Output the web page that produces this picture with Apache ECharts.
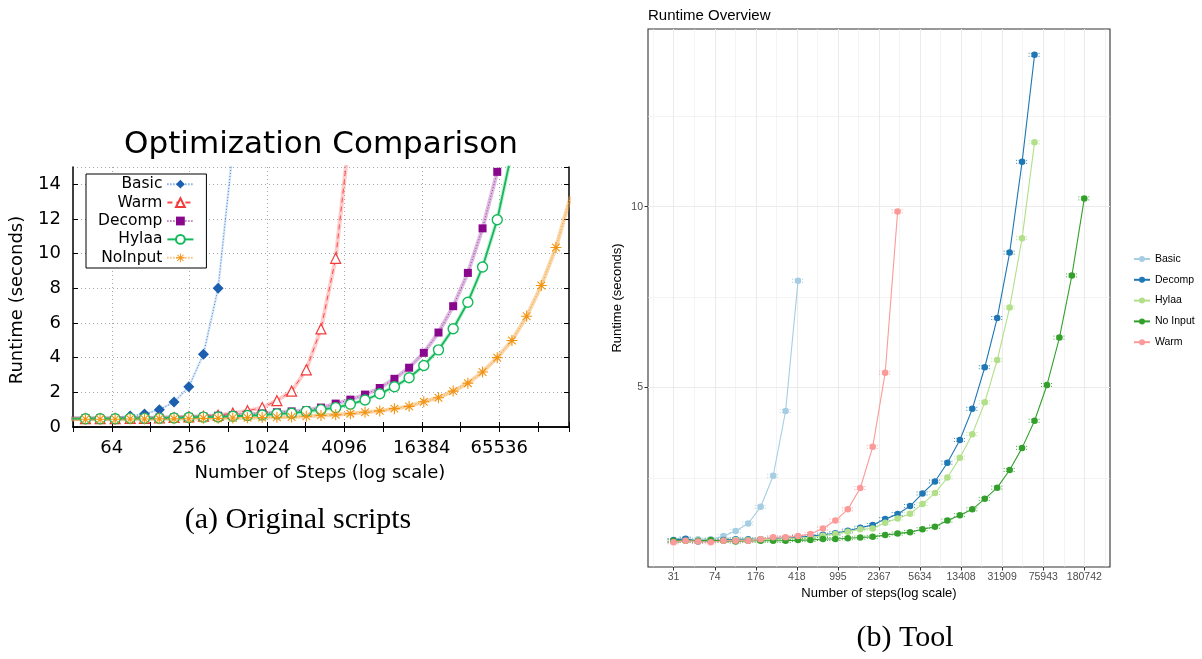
<!DOCTYPE html>
<html>
<head>
<meta charset="utf-8">
<title>Runtime comparison</title>
<script src="https://cdn.jsdelivr.net/npm/echarts@6/dist/echarts.min.js"></script>
<style>
html, body { margin: 0; padding: 0; background: #fff; }
#chart { width: 1202px; height: 659px; }
</style>
</head>
<body>
<div id="chart"></div>
<script>
// number of steps of every measured run (same for both panels)
const steps = [31, 40, 52, 68, 89, 115, 150, 195, 254, 330, 429, 558, 726, 944, 1228, 1597, 2077,
  2701, 3513, 4568, 5941, 7727, 10049, 13069, 16996, 22104, 28746, 37385, 48619, 63229, 82230,
  106941, 139077, 180742, 235060];

// (a) original scripts - runtime in seconds
const origBasic = [0.46, 0.46, 0.46, 0.5, 0.63, 0.75, 1.0, 1.44, 2.32, 4.2, 8.0, 16.0];
const origWarm = [0.48, 0.48, 0.48, 0.48, 0.5, 0.5, 0.52, 0.55, 0.58, 0.62, 0.68, 0.8, 0.94, 1.12,
  1.52, 2.07, 3.3, 5.66, 9.73, 17.3];
const origDecomp = [0.5, 0.5, 0.5, 0.5, 0.52, 0.52, 0.55, 0.55, 0.58, 0.6, 0.65, 0.68, 0.72, 0.78,
  0.85, 0.9, 0.97, 1.12, 1.35, 1.58, 1.87, 2.25, 2.78, 3.42, 4.28, 5.45, 6.97, 8.89, 11.46, 14.72];
const origHylaa = [0.48, 0.48, 0.48, 0.48, 0.5, 0.5, 0.5, 0.52, 0.55, 0.57, 0.58, 0.62, 0.66, 0.69,
  0.76, 0.79, 0.9, 1.0, 1.12, 1.31, 1.56, 1.92, 2.32, 2.84, 3.55, 4.45, 5.67, 7.2, 9.23, 11.96, 15.9];
const origNoInput = [0.45, 0.45, 0.45, 0.45, 0.46, 0.46, 0.47, 0.47, 0.48, 0.5, 0.5, 0.52, 0.54, 0.55,
  0.56, 0.58, 0.62, 0.67, 0.7, 0.77, 0.85, 0.93, 1.06, 1.19, 1.46, 1.69, 2.07, 2.53, 3.17, 4.0,
  4.99, 6.39, 8.16, 10.36, 13.3];

// (b) tool - runtime in seconds
const toolBasic = [0.76, 0.80, 0.80, 0.80, 0.89, 1.03, 1.24, 1.70, 2.56, 4.35, 7.95];
const toolDecomp = [0.78, 0.82, 0.74, 0.76, 0.78, 0.80, 0.80, 0.80, 0.82, 0.84, 0.86, 0.89, 0.93,
  0.97, 1.04, 1.12, 1.20, 1.36, 1.50, 1.72, 2.07, 2.40, 2.92, 3.55, 4.41, 5.56, 6.92, 8.73, 11.24, 14.2];
const toolHylaa = [0.74, 0.76, 0.76, 0.76, 0.76, 0.78, 0.78, 0.80, 0.80, 0.82, 0.84, 0.86, 0.90,
  0.95, 1.01, 1.08, 1.10, 1.26, 1.38, 1.51, 1.78, 2.08, 2.51, 3.06, 3.71, 4.59, 5.76, 7.21, 9.13, 11.78];
const toolNoInput = [0.76, 0.76, 0.76, 0.78, 0.76, 0.74, 0.76, 0.76, 0.76, 0.76, 0.78, 0.78, 0.81,
  0.81, 0.83, 0.85, 0.87, 0.92, 0.96, 1.00, 1.08, 1.15, 1.32, 1.47, 1.63, 1.92, 2.23, 2.72, 3.33,
  4.08, 5.07, 6.38, 8.10, 10.23];
const toolWarm = [0.72, 0.76, 0.74, 0.72, 0.76, 0.76, 0.76, 0.80, 0.86, 0.86, 0.89, 0.95, 1.10,
  1.32, 1.63, 2.22, 3.36, 5.41, 9.87];

// tick labels
const origXTicks = [64, 256, 1024, 4096, 16384, 65536];
const toolXTicks = [31, 74, 176, 418, 995, 2367, 5634, 13408, 31909, 75943, 180742];
const toolYTicks = [5, 10];
const toolYMinor = [2.5, 7.5, 12.5];

// minor grid of the tool panel sits half way (in log) between the labels
const toolXMinor = [Math.log(toolXTicks[0]) - Math.log(toolXTicks[1] / toolXTicks[0]) / 2];
for (let i = 0; i < toolXTicks.length; i++) {
  const a = Math.log(toolXTicks[i]);
  const b = i + 1 < toolXTicks.length ? Math.log(toolXTicks[i + 1]) : a + Math.log(toolXTicks[i] / toolXTicks[i - 1]);
  toolXMinor.push((a + b) / 2);
}

function pairs(vals, f) {
  const out = [];
  vals.forEach(function (v, i) { if (v != null) out.push([f(steps[i]), v]); });
  return out;
}

const asterisk = 'path://M-10,-1L10,-1L10,1L-10,1Z M-1,-10L1,-10L1,10L-1,10Z ' +
  'M-6.3,-7.7L7.7,6.3L6.3,7.7L-7.7,-6.3Z M6.3,-7.7L7.7,-6.3L-6.3,7.7L-7.7,6.3Z';

const origSeries = [
  {name: 'Basic', vals: origBasic, line: '#3f86d6', dash: [1, 2], glow: 'rgba(60,130,210,0.18)', gw: 2.5,
    symbol: 'diamond', size: 11, fill: '#1b5fae', border: '#1b5fae', bw: 0},
  {name: 'Warm', vals: origWarm, line: '#ff4a4a', dash: [5, 4], glow: 'rgba(255,110,110,0.35)', gw: 4,
    symbol: 'triangle', size: 10, fill: '#fff', border: '#f23c3c', bw: 1.2},
  {name: 'Decomp', vals: origDecomp, line: '#a23aa6', dash: [1, 2], glow: 'rgba(160,60,170,0.35)', gw: 4,
    symbol: 'rect', size: 8, fill: '#88078c', border: '#88078c', bw: 0},
  {name: 'Hylaa', vals: origHylaa, line: '#13b95a', dash: 'solid', glow: 'rgba(30,190,100,0.25)', gw: 4,
    symbol: 'circle', size: 10, fill: '#fff', border: '#13b95a', bw: 1.4},
  {name: 'NoInput', vals: origNoInput, line: '#f5a03a', dash: [1, 2], glow: 'rgba(245,165,60,0.45)', gw: 4,
    symbol: asterisk, size: 11, fill: '#f29312', border: '#f29312', bw: 0}
];

const toolSeries = [
  {name: 'Basic ', vals: toolBasic, color: '#a6cee3'},
  {name: 'Decomp ', vals: toolDecomp, color: '#1f78b4'},
  {name: 'Hylaa ', vals: toolHylaa, color: '#b2df8a'},
  {name: 'No Input', vals: toolNoInput, color: '#33a02c'},
  {name: 'Warm ', vals: toolWarm, color: '#fb9a99'}
];

const series = [];
origSeries.forEach(function (s) {
  const data = pairs(s.vals, Math.log2);
  series.push({
    type: 'line', name: s.name + '-glow', xAxisIndex: 0, yAxisIndex: 0, data: data,
    symbol: 'none', silent: true, z: 2,
    lineStyle: {color: s.glow, width: s.gw}
  });
  series.push({
    type: 'line', name: s.name, xAxisIndex: 0, yAxisIndex: 0, data: data,
    symbol: s.symbol, symbolSize: s.size, showAllSymbol: true, z: 3,
    itemStyle: {color: s.fill, borderColor: s.border, borderWidth: s.bw},
    lineStyle: {color: s.line, width: s.dash === 'solid' ? 1.8 : 1, type: s.dash},
    emphasis: {disabled: true}
  });
});

// small dotted whiskers around each point of the tool panel
function whiskers(color) {
  return function (params, api) {
    const p = api.coord([api.value(0), api.value(1)]);
    const st = {stroke: color, lineWidth: 1, lineDash: [1, 1.5], opacity: 0.9};
    return {
      type: 'group', children: [
        {type: 'line', shape: {x1: p[0] - 6, y1: p[1] - 1.5, x2: p[0] + 6, y2: p[1] - 1.5}, style: st},
        {type: 'line', shape: {x1: p[0] - 6, y1: p[1] + 1.5, x2: p[0] + 6, y2: p[1] + 1.5}, style: st}
      ]
    };
  };
}

toolSeries.forEach(function (s) {
  const data = pairs(s.vals, Math.log);
  series.push({
    type: 'custom', name: s.name + '-err', xAxisIndex: 4, yAxisIndex: 2, data: data, z: 2,
    silent: true, renderItem: whiskers(s.color)
  });
  series.push({
    type: 'line', name: s.name, xAxisIndex: 4, yAxisIndex: 2, data: data, z: 3,
    symbol: 'circle', symbolSize: 6.5, showAllSymbol: true,
    itemStyle: {color: s.color},
    lineStyle: {color: s.color, width: 1.1},
    emphasis: {disabled: true}
  });
});

const gnuFont = 'DejaVu Sans';
const ggFont = 'Liberation Sans';
const origXMin = 5, origXMax = 17.8;
const toolXMin = 2.894, toolXMax = 12.647;
const toolYMin = 0.036, toolYMax = 14.914;

const myChart = echarts.init(document.getElementById('chart'));
const option = {
  animation: false,
  backgroundColor: '#fff',
  grid: [
    {left: 73, top: 167, width: 496, height: 260},
    {left: 648, top: 29, width: 462, height: 538, show: true, borderColor: '#333', borderWidth: 1.1,
      backgroundColor: 'transparent'}
  ],
  legend: [
    {
      data: ['Basic', 'Warm', 'Decomp', 'Hylaa', 'NoInput'],
      orient: 'vertical', left: 86, top: 174, align: 'right',
      itemWidth: 26, itemHeight: 11, itemGap: 0, padding: [1, 12, 1, 12],
      backgroundColor: '#fff', borderColor: '#000', borderWidth: 1,
      selectedMode: false,
      textStyle: {fontFamily: gnuFont, fontSize: 15.5, color: '#000', lineHeight: 18.4}
    },
    {
      data: ['Basic ', 'Decomp ', 'Hylaa ', 'No Input', 'Warm '],
      orient: 'vertical', left: 1133, top: 253,
      itemWidth: 16, itemHeight: 7.5, itemGap: 8.8, padding: 0,
      selectedMode: false,
      textStyle: {fontFamily: ggFont, fontSize: 10.5, color: '#000', lineHeight: 12}
    }
  ],
  xAxis: [
    {
      // powers of two, ticks on every doubling
      gridIndex: 0, type: 'value', position: 'bottom', min: origXMin, max: origXMax, interval: 1,
      axisLine: {lineStyle: {color: '#000', width: 1.5}},
      axisTick: {inside: true, length: 5, lineStyle: {color: '#000', width: 1}},
      axisLabel: {
        fontFamily: gnuFont, fontSize: 18, color: '#000', margin: 12,
        formatter: function (v) {
          const n = Math.round(Math.pow(2, v));
          return Number.isInteger(v) && origXTicks.indexOf(n) >= 0 ? String(n) : '';
        }
      },
      splitLine: {show: false}
    },
    {
      gridIndex: 0, type: 'value', position: 'top', min: origXMin, max: origXMax, interval: 1,
      axisLine: {lineStyle: {color: '#000', width: 1.5}},
      axisTick: {inside: true, length: 5, lineStyle: {color: '#000', width: 1}},
      axisLabel: {show: false}, splitLine: {show: false}
    },
    {
      // dotted grid only at the labelled powers
      gridIndex: 0, type: 'value', position: 'top', offset: 0, min: origXMin, max: origXMax,
      axisLine: {show: false},
      axisTick: {show: false, customValues: origXTicks.map(Math.log2)},
      axisLabel: {show: false},
      splitLine: {show: true, lineStyle: {color: '#a8a8a8', type: [1, 3], width: 1}}
    },
    {
      gridIndex: 1, type: 'value', position: 'top', min: toolXMin, max: toolXMax,
      axisLine: {show: false},
      axisTick: {show: false, customValues: toolXMinor},
      axisLabel: {show: false},
      splitLine: {show: true, lineStyle: {color: '#ebebeb', width: 0.55}}
    },
    {
      gridIndex: 1, type: 'value', position: 'bottom', min: toolXMin, max: toolXMax,
      axisLine: {show: false},
      axisTick: {customValues: toolXTicks.map(Math.log), length: 3.5, lineStyle: {color: '#333', width: 1}},
      axisLabel: {
        customValues: toolXTicks.map(Math.log), fontFamily: ggFont, fontSize: 10.5, color: '#4d4d4d', margin: 5,
        formatter: function (v) { return String(Math.round(Math.exp(v))); }
      },
      splitLine: {show: true, lineStyle: {color: '#ebebeb', width: 1.1}}
    }
  ],
  yAxis: [
    {
      gridIndex: 0, type: 'value', position: 'left', min: 0, max: 15, interval: 2,
      axisLine: {show: true, lineStyle: {color: '#000', width: 1.5}},
      axisTick: {show: true, inside: true, length: 5, lineStyle: {color: '#000', width: 1}},
      axisLabel: {fontFamily: gnuFont, fontSize: 18, color: '#000', margin: 12, showMaxLabel: false},
      splitLine: {show: true, lineStyle: {color: '#a8a8a8', type: [1, 3], width: 1}}
    },
    {
      gridIndex: 0, type: 'value', position: 'right', min: 0, max: 15, interval: 2,
      axisLine: {show: true, lineStyle: {color: '#000', width: 1.5}},
      axisTick: {show: true, inside: true, length: 5, lineStyle: {color: '#000', width: 1}},
      axisLabel: {show: false}, splitLine: {show: false}
    },
    {
      gridIndex: 1, type: 'value', position: 'left', min: toolYMin, max: toolYMax,
      axisLine: {show: false},
      axisTick: {show: true, customValues: toolYTicks, length: 3.5, lineStyle: {color: '#333', width: 1}},
      axisLabel: {customValues: toolYTicks, fontFamily: ggFont, fontSize: 10.5, color: '#4d4d4d', margin: 5},
      splitLine: {show: true, lineStyle: {color: '#ebebeb', width: 1.1}}
    },
    {
      gridIndex: 1, type: 'value', position: 'right', min: toolYMin, max: toolYMax,
      axisLine: {show: false},
      axisTick: {show: false, customValues: toolYMinor},
      axisLabel: {show: false},
      splitLine: {show: true, lineStyle: {color: '#ebebeb', width: 0.55}}
    }
  ],
  graphic: [
    {type: 'text', x: 321, y: 145, style: {text: 'Optimization Comparison', fontFamily: gnuFont, fontSize: 31,
      fill: '#000', align: 'center', verticalAlign: 'middle'}},
    {type: 'text', x: 320, y: 473, style: {text: 'Number of Steps (log scale)', fontFamily: gnuFont, fontSize: 18,
      fill: '#000', align: 'center', verticalAlign: 'middle'}},
    {type: 'text', x: 17, y: 300, rotation: Math.PI / 2, style: {text: 'Runtime (seconds)', fontFamily: gnuFont,
      fontSize: 18, fill: '#000', align: 'center', verticalAlign: 'middle'}},
    {type: 'text', x: 298, y: 520, style: {text: '(a) Original scripts', fontFamily: 'Liberation Serif', fontSize: 30,
      fill: '#000', align: 'center', verticalAlign: 'middle'}},
    {type: 'text', x: 648, y: 16, style: {text: 'Runtime Overview', fontFamily: ggFont, fontSize: 15,
      fill: '#000', align: 'left', verticalAlign: 'middle'}},
    {type: 'text', x: 879, y: 593, style: {text: 'Number of steps(log scale)', fontFamily: ggFont, fontSize: 13,
      fill: '#000', align: 'center', verticalAlign: 'middle'}},
    {type: 'text', x: 617, y: 298, rotation: Math.PI / 2, style: {text: 'Runtime (seconds)', fontFamily: ggFont,
      fontSize: 13, fill: '#000', align: 'center', verticalAlign: 'middle'}},
    {type: 'text', x: 905, y: 638, style: {text: '(b) Tool', fontFamily: 'Liberation Serif', fontSize: 30,
      fill: '#000', align: 'center', verticalAlign: 'middle'}}
  ],
  series: series
};
myChart.setOption(option);
window.addEventListener('resize', function () {
  myChart.resize();
});
</script>
</body>
</html>
